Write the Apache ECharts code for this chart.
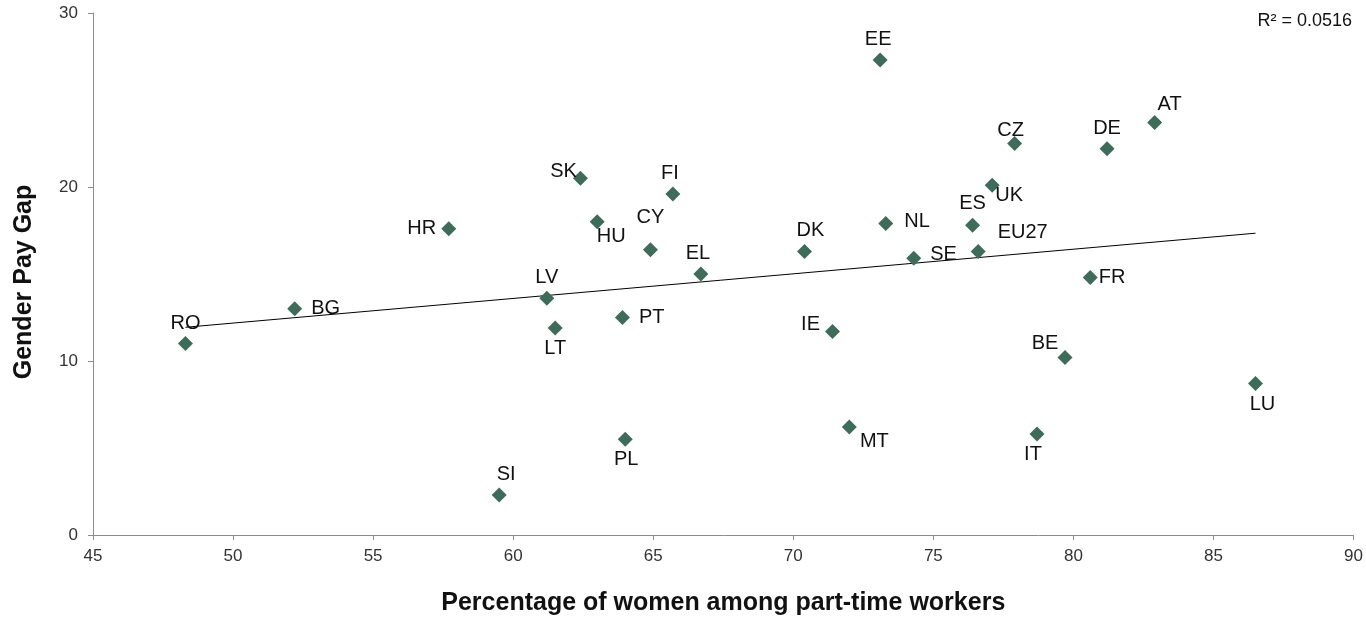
<!DOCTYPE html>
<html>
<head>
<meta charset="utf-8">
<title>Gender Pay Gap vs women in part-time work</title>
<script src="https://cdn.jsdelivr.net/npm/echarts@6/dist/echarts.min.js"></script>
<style>
  html, body { margin: 0; padding: 0; background: #fff; }
  #chart { width: 1366px; height: 621px; }
</style>
</head>
<body>
<div id="chart"></div>
<script>
// Country codes
var countries = ['RO','BG','HR','LV','LT','SK','HU','PT','CY','FI','EL','SI','PL','DK','IE','MT','EE','NL','SE','ES','EU27','UK','CZ','FR','BE','IT','DE','AT','LU'];
// Percentage of women among part-time workers
var womenPartTime = [48.3,52.2,57.7,61.2,61.5,62.4,63.0,63.9,64.9,65.7,66.7,59.5,64.0,70.4,71.4,72.0,73.1,73.3,74.3,76.4,76.6,77.1,77.9,80.6,79.7,78.7,81.2,82.9,86.5];
// Gender pay gap (%)
var payGap = [11.0,13.0,17.6,13.6,11.9,20.5,18.0,12.5,16.4,19.6,15.0,2.3,5.5,16.3,11.7,6.2,27.3,17.9,15.9,17.8,16.3,20.1,22.5,14.8,10.2,5.8,22.2,23.7,8.7];
// Label placement for each country: [position, dx, dy]
var labelPlace = {
  RO:['top',0,0], BG:['right',6,0], HR:['left',-2,0], LV:['top',0,0], LT:['bottom',0,0],
  SK:['left',7,-7], HU:['bottom',14,-6], PT:['right',6,0], CY:['top',0,-12], FI:['top',-3,0],
  EL:['top',-3,0], SI:['top',7,0], PL:['bottom',1,0], DK:['top',6,0], IE:['left',-2,-7],
  MT:['bottom',25,-6], EE:['top',-2,0], NL:['right',8,-2], SE:['right',6,-4], ES:['top',0,-1],
  EU27:['right',9,-19], UK:['bottom',17,-10], CZ:['top',-4,7], FR:['right',-2,0],
  BE:['top',-20,6], IT:['bottom',-4,0], DE:['top',0,0], AT:['top',15,2], LU:['bottom',7,0]
};
var rSquaredText = 'R² = 0.0516';
var xTicks = { min: 45, max: 90, interval: 5 };
var yTicks = { min: 0, max: 30, interval: 10 };

// Least-squares linear trend through the points
function linearFit(xs, ys) {
  var n = xs.length, sx = 0, sy = 0, sxx = 0, sxy = 0;
  for (var i = 0; i < n; i++) { sx += xs[i]; sy += ys[i]; sxx += xs[i]*xs[i]; sxy += xs[i]*ys[i]; }
  var b = (n*sxy - sx*sy) / (n*sxx - sx*sx);
  var a = (sy - b*sx) / n;
  return { a: a, b: b };
}
var fit = linearFit(womenPartTime, payGap);
var xMin = Math.min.apply(null, womenPartTime), xMax = Math.max.apply(null, womenPartTime);
var trend = [[xMin, fit.a + fit.b*xMin], [xMax, fit.a + fit.b*xMax]];

var fontFam = '"Liberation Sans", Arial, sans-serif';
var points = countries.map(function (c, i) {
  var p = labelPlace[c];
  return {
    name: c,
    value: [womenPartTime[i], payGap[i]],
    label: { position: p[0], offset: [p[1], p[2]] }
  };
});

var axisCommon = {
  type: 'value',
  nameLocation: 'middle', nameGap: 56,
  axisLine: { show: true, lineStyle: { color: '#8c8c8c', width: 1 } },
  axisTick: { show: true, inside: false, length: 5, lineStyle: { color: '#8c8c8c' } },
  splitLine: { show: false }
};
var titleStyle = { fontFamily: fontFam, fontWeight: 'bold', fontSize: 25, color: '#111' };

var chart = echarts.init(document.getElementById('chart'));
chart.setOption({
  animation: false,
  backgroundColor: '#ffffff',
  grid: { left: 93, right: 12, top: 13, bottom: 85, containLabel: false },
  xAxis: Object.assign({}, axisCommon, {
    min: xTicks.min, max: xTicks.max, interval: xTicks.interval,
    name: 'Percentage of women among part-time workers',
    nameTextStyle: titleStyle,
    axisLabel: { fontFamily: fontFam, fontSize: 17, color: '#333', margin: 13 }
  }),
  yAxis: Object.assign({}, axisCommon, {
    min: yTicks.min, max: yTicks.max, interval: yTicks.interval,
    name: 'Gender Pay Gap',
    nameTextStyle: Object.assign({}, titleStyle, { padding: [0, 16, 0, 0] }),
    axisLabel: { fontFamily: fontFam, fontSize: 17, color: '#333', margin: 15 }
  }),
  graphic: [{
    type: 'text', right: 14, top: 12,
    style: { text: rSquaredText, font: '18px ' + fontFam, fill: '#111' }
  }],
  series: [
    {
      type: 'line', data: trend, symbol: 'none', silent: true, z: 1,
      lineStyle: { color: '#000', width: 1 }
    },
    {
      type: 'scatter', data: points, symbol: 'diamond', symbolSize: [15, 15], z: 2,
      itemStyle: { color: '#3f6b5a', opacity: 1 },
      label: {
        show: true, formatter: '{b}', distance: 3,
        fontFamily: fontFam, fontSize: 20, color: '#111'
      }
    }
  ]
});
</script>
</body>
</html>
